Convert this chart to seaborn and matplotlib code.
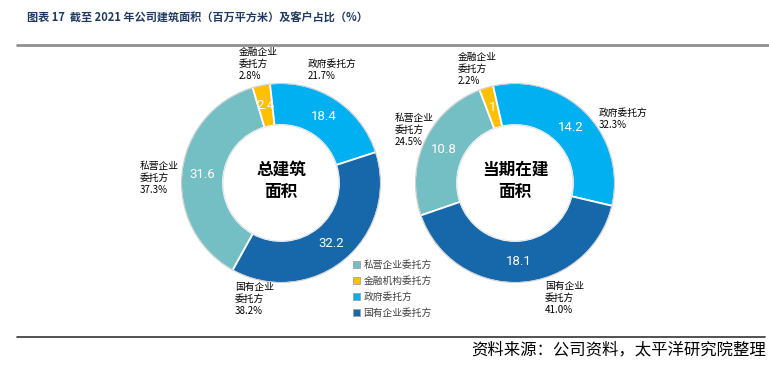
import matplotlib
matplotlib.use("Agg")
import numpy as np
import matplotlib.pyplot as plt
import seaborn as sns
from matplotlib.patches import Patch
from matplotlib.lines import Line2D

sns.set_theme(style="white")
plt.rcParams['font.family'] = ['Noto Sans CJK SC', 'DejaVu Sans']

# ---- data ----
categories = ["私营企业委托方", "金融机构委托方", "政府委托方", "国有企业委托方"]
total_area = [31.6, 2.4, 18.4, 32.2]
building_area = [10.8, 1.0, 14.2, 18.1]
total_pct_labels = ["私营企业\n委托方\n37.3%", "金融企业\n委托方\n2.8%", "政府委托方\n21.7%", "国有企业\n委托方\n38.2%"]
building_pct_labels = ["私营企业\n委托方\n24.5%", "金融企业\n委托方\n2.2%", "政府委托方\n32.3%", "国有企业\n委托方\n41.0%"]
value_labels_total = ["31.6", "2.4", "18.4", "32.2"]
value_labels_building = ["10.8", "1", "14.2", "18.1"]
center_titles = ["总建筑\n面积", "当期在建\n面积"]
title = "图表 17  截至 2021 年公司建筑面积（百万平方米）及客户占比（%）"
source = "资料来源：公司资料，太平洋研究院整理"

colors = ["#74BFC4", "#FFC000", "#00B0F0", "#1767AB"]

W, H = 769, 374
fig = plt.figure(figsize=(W / 100, H / 100), dpi=100)
fig.patch.set_facecolor("white")


def fx(x):
    return x / W


def fy(y):
    return 1 - y / H


def donut(cx, cy, r, values, startangle, vlabels, center_text):
    ax = fig.add_axes([fx(cx - r), fy(cy + r), 2 * r / W, 2 * r / H])
    ax.axis("off")
    wedges, _ = ax.pie(values, colors=colors, startangle=startangle, counterclock=False,
                       radius=1.0, wedgeprops=dict(width=0.42, edgecolor="white", linewidth=1.3))
    ax.set_xlim(-1, 1)
    ax.set_ylim(-1, 1)
    for w, lab in zip(wedges, vlabels):
        ang = np.deg2rad((w.theta1 + w.theta2) / 2)
        ax.text(0.79 * np.cos(ang), 0.79 * np.sin(ang), lab, ha="center", va="center",
                color="white", fontsize=9.5, family=["Roboto", "DejaVu Sans"])
    ax.add_patch(plt.Circle((0, 0), 0.995, fill=False, edgecolor="#D0D0D0", linewidth=0.8))
    ax.add_patch(plt.Circle((0, 0), 0.58, fill=False, edgecolor="#E0E0E0", linewidth=0.6))
    ax.text(0, 0.02, center_text, ha="center", va="center", fontsize=12, fontweight="bold",
            color="black", linespacing=1.35)
    return wedges


donut(281, 183, 100, total_area, -119, value_labels_total, center_titles[0])
donut(515, 183, 100, building_area, -161, value_labels_building, center_titles[1])

# outer labels (left x, top y in pixels)
left_pos = [(140, 161), (239, 47), (308, 59), (235, 282)]
right_pos = [(395, 113), (458, 52), (599, 108), (545, 281)]
for (x, y), lab in zip(left_pos, total_pct_labels):
    fig.text(fx(x), fy(y), lab, ha="left", va="top", fontsize=7, color="black", linespacing=1.25)
for (x, y), lab in zip(right_pos, building_pct_labels):
    fig.text(fx(x), fy(y), lab, ha="left", va="top", fontsize=7, color="black", linespacing=1.25)

# legend
handles = [Patch(facecolor=c, edgecolor="#A0A0A0", linewidth=0.6) for c in colors]
fig.legend(handles, categories, loc="upper left", bbox_to_anchor=(fx(349), fy(256)),
           frameon=False, fontsize=7, handlelength=0.75, handleheight=0.75,
           handletextpad=0.35, labelspacing=0.62, borderaxespad=0, labelcolor="#404040")

# title & rules
fig.text(fx(27), fy(18), title, ha="left", va="center", fontsize=8.0, fontweight="bold",
         color="#1F3A60")
fig.add_artist(Line2D([fx(17), fx(769)], [fy(45), fy(45)], color="#909090", linewidth=2.0))
fig.add_artist(Line2D([fx(17), fx(765)], [fy(337), fy(337)], color="#333333", linewidth=1.2))
fig.text(fx(766), fy(350), source, ha="right", va="center", fontsize=11.8, color="black")

fig.savefig("out.png", dpi=100, facecolor="white")
